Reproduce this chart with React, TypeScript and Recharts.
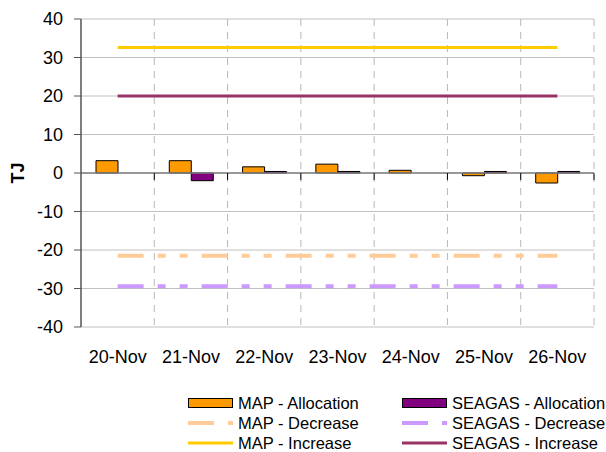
import {
  Bar,
  CartesianGrid,
  ComposedChart,
  Legend,
  Line,
  ReferenceLine,
  XAxis,
  YAxis,
} from "recharts";

const CATEGORIES = ["20-Nov", "21-Nov", "22-Nov", "23-Nov", "24-Nov", "25-Nov", "26-Nov"];
const MAP_ALLOCATION = [3.2, 3.2, 1.6, 2.3, 0.7, -0.7, -2.6];
const SEAGAS_ALLOCATION = [0, -2.0, 0.4, 0.4, 0, 0.4, 0.4];
const MAP_DECREASE = [-21.5, -21.5, -21.5, -21.5, -21.5, -21.5, -21.5];
const SEAGAS_DECREASE = [-29.4, -29.4, -29.4, -29.4, -29.4, -29.4, -29.4];
const MAP_INCREASE = [32.6, 32.6, 32.6, 32.6, 32.6, 32.6, 32.6];
const SEAGAS_INCREASE = [20, 20, 20, 20, 20, 20, 20];
const Y_TICKS = [-40, -30, -20, -10, 0, 10, 20, 30, 40];
// category boundaries (in category units) for dashed gridlines + zero-line ticks
const BOUNDARIES = [1, 2, 3, 4, 5, 6, 7];

const FONT = '"Liberation Sans", Arial, sans-serif';
const DASH = "26 14 8 14 8 14";

const data = CATEGORIES.map((day, i) => ({
  day,
  slot: i + 0.5,
  mapAlloc: MAP_ALLOCATION[i],
  seagasAlloc: SEAGAS_ALLOCATION[i],
  mapDec: MAP_DECREASE[i],
  seagasDec: SEAGAS_DECREASE[i],
  mapInc: MAP_INCREASE[i],
  seagasInc: SEAGAS_INCREASE[i],
}));

const LEGEND_ITEMS = [
  { name: "MAP - Allocation", kind: "bar", color: "#FF9900" },
  { name: "SEAGAS - Allocation", kind: "bar", color: "#800080" },
  { name: "MAP - Decrease", kind: "dash", color: "#FFCC99" },
  { name: "SEAGAS - Decrease", kind: "dash", color: "#CC99FF" },
  { name: "MAP - Increase", kind: "line", color: "#FFCC00" },
  { name: "SEAGAS - Increase", kind: "line", color: "#993366" },
];

function LegendGrid() {
  return (
    <div
      style={{
        display: "grid",
        gridTemplateColumns: "214px 204px",
        gridAutoRows: "20px",
        paddingLeft: 188,
        fontFamily: FONT,
        fontSize: 16.5,
        lineHeight: "20px",
        color: "#000",
      }}
    >
      {LEGEND_ITEMS.map((it) => (
        <div key={it.name} style={{ display: "flex", alignItems: "center", whiteSpace: "nowrap", height: 20 }}>
          <svg width={45} height={20} style={{ display: "block", flex: "none" }}>
            {it.kind === "bar" && (
              <rect x={0.5} y={5.5} width={44} height={9} fill={it.color} stroke="#000" />
            )}
            {it.kind === "dash" && (
              <line x1={0} y1={10} x2={45} y2={10} stroke={it.color} strokeWidth={4} strokeDasharray={DASH} />
            )}
            {it.kind === "line" && (
              <line x1={0} y1={10} x2={45} y2={10} stroke={it.color} strokeWidth={3} />
            )}
          </svg>
          <span style={{ marginLeft: 5 }}>{it.name}</span>
        </div>
      ))}
    </div>
  );
}

function TJLabel(props: any) {
  const vb = props.viewBox || { x: 0, y: 19, width: 81, height: 308 };
  const cx = vb.x + 18;
  const cy = vb.y + vb.height / 2;
  return (
    <text
      x={cx}
      y={cy}
      transform={`rotate(-90, ${cx}, ${cy})`}
      textAnchor="middle"
      dominantBaseline="central"
      fontFamily={FONT}
      fontSize={18}
      fontWeight="bold"
      fill="#000"
    >
      TJ
    </text>
  );
}

const boundaryXs = ({ offset }: any) =>
  BOUNDARIES.map((b) => offset.left + (offset.width * b) / CATEGORIES.length);

export default function App() {
  return (
    <div style={{ position: "absolute", left: 0, top: 0, width: 606, height: 452, background: "#fff" }}>
      <ComposedChart
        width={606}
        height={452}
        data={data}
        margin={{ top: 19, right: 12, left: 0, bottom: 95 }}
        barGap={0}
        barSize={22}
      >
        <CartesianGrid vertical={false} stroke="#C0C0C0" />
        <CartesianGrid
          horizontal={false}
          stroke="#B8B8B8"
          strokeDasharray="7 6"
          verticalCoordinatesGenerator={boundaryXs}
        />
        <XAxis
          xAxisId="cat"
          dataKey="day"
          height={30}
          axisLine={false}
          tickLine={false}
          tickSize={0}
          tickMargin={23}
          interval={0}
          tick={{ fill: "#000", fontSize: 18, fontFamily: FONT }}
        />
        <XAxis xAxisId="pos" dataKey="slot" type="number" domain={[0, 7]} allowDataOverflow hide />
        <YAxis
          width={81}
          domain={[-40, 40]}
          ticks={Y_TICKS}
          interval={0}
          allowDataOverflow
          axisLine={{ stroke: "#555", strokeWidth: 1.5 }}
          tickLine={{ stroke: "#555" }}
          tickSize={7}
          tickMargin={11}
          tick={{ fill: "#000", fontSize: 18, fontFamily: FONT }}
          label={TJLabel}
        />
        <ReferenceLine xAxisId="pos" y={0} stroke="#808080" strokeWidth={1.5} />
        {BOUNDARIES.map((b) => (
          <ReferenceLine
            key={`t${b}`}
            xAxisId="pos"
            segment={[
              { x: b, y: 0 },
              { x: b, y: -1.8 },
            ]}
            stroke="#000"
            ifOverflow="visible"
          />
        ))}
        <Bar xAxisId="cat" dataKey="mapAlloc" name="MAP - Allocation" fill="#FF9900" stroke="#000" strokeWidth={1} isAnimationActive={false} />
        <Bar xAxisId="cat" dataKey="seagasAlloc" name="SEAGAS - Allocation" fill="#800080" stroke="#000" strokeWidth={1} isAnimationActive={false} />
        <Line xAxisId="cat" dataKey="mapDec" name="MAP - Decrease" stroke="#FFCC99" strokeWidth={4} strokeDasharray={DASH} dot={false} activeDot={false} isAnimationActive={false} />
        <Line xAxisId="cat" dataKey="seagasDec" name="SEAGAS - Decrease" stroke="#CC99FF" strokeWidth={4} strokeDasharray={DASH} dot={false} activeDot={false} isAnimationActive={false} />
        <Line xAxisId="cat" dataKey="mapInc" name="MAP - Increase" stroke="#FFCC00" strokeWidth={3} dot={false} activeDot={false} isAnimationActive={false} />
        <Line xAxisId="cat" dataKey="seagasInc" name="SEAGAS - Increase" stroke="#993366" strokeWidth={3} dot={false} activeDot={false} isAnimationActive={false} />
        <Legend
          layout="horizontal"
          align="center"
          verticalAlign="middle"
          content={<LegendGrid />}
          wrapperStyle={{ top: 393, left: 0, width: 606, height: 60 }}
        />
      </ComposedChart>
    </div>
  );
}
